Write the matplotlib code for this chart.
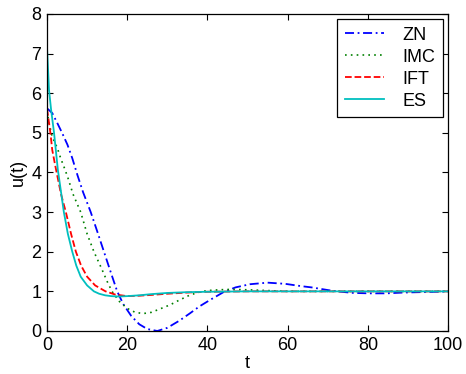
import matplotlib
matplotlib.use('Agg')
import matplotlib.pyplot as plt

plt.rcParams['font.family'] = ['Liberation Sans', 'DejaVu Sans']

# curves
t_zn = [0, 1.3, 2.6, 3.8, 5.1, 6.3, 7.6, 9, 10.9, 12.5, 14.2, 16, 17.5, 19, 21, 23, 25, 27.5,
        30, 33, 35.7, 38, 40.6, 44, 47, 50.6, 55, 59.4, 63.5, 66, 70.2, 72.3, 76.4, 80.5,
        84.7, 88.9, 93, 97.2, 100]
u_zn = [5.62, 5.5, 5.24, 4.99, 4.7, 4.36, 3.93, 3.5, 3.0, 2.52, 2.0, 1.45, 1.0, 0.68, 0.38, 0.17,
        0.05, 0.0, 0.08, 0.26, 0.45, 0.62, 0.78, 0.98, 1.1, 1.18, 1.22, 1.19, 1.13, 1.1, 1.03,
        1.0, 0.96, 0.95, 0.95, 0.97, 0.98, 0.99, 1.0]

t_imc = [0, 0.5, 1.3, 2.6, 3.4, 4.2, 5.1, 6.5, 8.4, 10, 11.7, 13.5, 15, 16.2, 18, 20, 22, 24,
         26, 28, 30.7, 33, 35.7, 38, 40, 43, 46, 50, 55, 60, 70, 80, 100]
u_imc = [5.55, 5.25, 4.9, 4.61, 4.36, 4.15, 3.9, 3.45, 3.0, 2.45, 2.0, 1.6, 1.25, 1.0, 0.75,
         0.57, 0.47, 0.44, 0.47, 0.55, 0.66, 0.78, 0.91, 0.98, 1.02, 1.04, 1.05, 1.04, 1.02,
         1.0, 1.0, 1.0, 1.0]

t_ift = [0, 0.1, 0.5, 0.9, 1.3, 2.0, 2.6, 3.5, 4.7, 6, 7.2, 8.5, 10, 12, 14.6, 17, 20, 23,
         26, 30, 35, 40, 50, 60, 100]
u_ift = [5.6, 5.54, 5.25, 4.95, 4.57, 4.2, 3.9, 3.45, 3.0, 2.45, 2.0, 1.65, 1.37, 1.15, 1.0,
         0.92, 0.88, 0.89, 0.91, 0.94, 0.97, 0.99, 1.0, 1.0, 1.0]

t_es = [0, 0.5, 1, 1.75, 2.7, 3.5, 4.2, 5.2, 6.3, 7.3, 8.4, 10, 11.7, 13, 14.5, 16, 18, 20,
        23, 26, 30, 35, 40, 50, 100]
u_es = [7.15, 6.08, 5.6, 5.0, 4.07, 3.5, 3.0, 2.45, 2.0, 1.65, 1.37, 1.15, 1.0, 0.94, 0.9,
        0.88, 0.87, 0.88, 0.9, 0.93, 0.96, 0.98, 0.99, 1.0, 1.0]

fig = plt.figure(figsize=(4.66, 3.74), dpi=100)
ax = fig.add_axes([0.1009, 0.115, 0.8605, 0.8476])

ax.plot(t_zn, u_zn, color='b', linestyle=(0, (5, 2, 1, 2)), linewidth=1.3, label='ZN')
ax.plot(t_imc, u_imc, color=(0, 0.5, 0), linestyle=(0, (1, 2.5)), linewidth=1.2, label='IMC')
ax.plot(t_ift, u_ift, color='r', linestyle='--', linewidth=1.3, label='IFT')
ax.plot(t_es, u_es, color=(0, 0.75, 0.75), linestyle='-', linewidth=1.3, label='ES')

ax.set_xlim(0, 100)
ax.set_ylim(0, 8)
ax.set_xticks([0, 20, 40, 60, 80, 100])
ax.set_yticks(range(0, 9))
ax.tick_params(direction='in', top=True, right=True, labelsize=13, length=4, width=0.8, pad=4)
ax.set_xlabel('t', fontsize=13, labelpad=1)
ax.set_ylabel('u(t)', fontsize=13, labelpad=3)
for s in ax.spines.values():
    s.set_linewidth(0.9)

leg = ax.legend(loc='upper right', fontsize=13, fancybox=False, edgecolor='black',
                framealpha=1, handlelength=2.2, borderaxespad=0.3, labelspacing=0.28,
                handletextpad=1.0, borderpad=0.4)
leg.get_frame().set_linewidth(0.9)

fig.savefig('out.png', dpi=100)
